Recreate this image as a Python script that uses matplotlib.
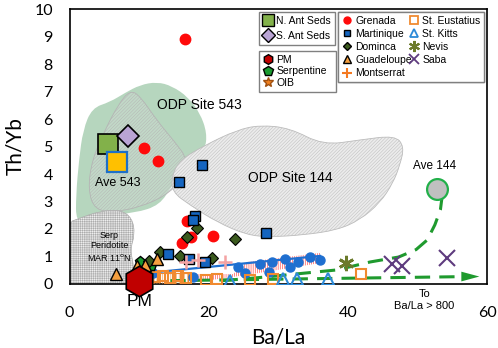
import numpy as np
import matplotlib
matplotlib.use('Agg')
import matplotlib.pyplot as plt
from matplotlib.path import Path
from matplotlib.patches import PathPatch
from matplotlib.lines import Line2D

plt.rcParams['font.family'] = ['Liberation Sans', 'DejaVu Sans']
plt.rcParams['hatch.linewidth'] = 0.35

# --- data ---
grenada_x = [16.6, 10.7, 12.7, 16.9, 17.4, 16.1, 20.6]
grenada_y = [8.9, 4.95, 4.47, 2.3, 1.7, 1.5, 1.75]

martinique_x = [19.0, 15.7, 18.1, 17.7, 28.2, 14.2, 17.1, 19.5]
martinique_y = [4.33, 3.7, 2.47, 2.33, 1.85, 1.1, 0.9, 0.8]

dominica_x = [23.8, 18.3, 16.9, 15.9, 20.5, 13.0, 11.4]
dominica_y = [1.65, 2.05, 1.7, 1.0, 0.95, 1.15, 0.85]

guadeloupe_x = [6.7, 9.7, 10.9, 12.6]
guadeloupe_y = [0.35, 0.65, 0.7, 0.92]

serpentine_x = [10.1, 11.7]
serpentine_y = [0.8, 0.65]

montserrat_x = [16.8, 18.4, 22.4]
montserrat_y = [0.8, 0.87, 0.8]

eustatius_x = [12.3, 13.4, 14.5, 15.6, 16.8, 19.6, 21.2, 25.9, 29.3, 41.9]
eustatius_y = [0.25, 0.3, 0.22, 0.3, 0.2, 0.15, 0.18, 0.15, 0.18, 0.38]

kitts_x = [23.1, 30.7, 32.7, 37.2]
kitts_y = [0.1, 0.18, 0.18, 0.18]

nevis_x = [39.7]
nevis_y = [0.75]

saba_x = [46.4, 47.8, 54.3]
saba_y = [0.72, 0.66, 0.95]

blue_x = [12.0, 17.7, 24.2, 25.2, 27.4, 28.6, 29.1, 31.0, 31.7, 32.9, 34.6, 36.0]
blue_y = [0.4, 0.25, 0.62, 0.39, 0.72, 0.45, 0.81, 0.9, 0.63, 0.81, 0.99, 0.87]
blue_line_x = [12.0, 36.0]
blue_line_y = [0.42, 1.02]

red_band_x = [18.3, 25.5, 36.0, 36.0, 25.5, 23.5, 18.3]
red_band_y = [0.07, 0.33, 0.76, 1.13, 0.8, 0.36, 0.36]
orange_band_x = [12.0, 17.0, 17.0, 12.0]
orange_band_y = [0.0, 0.0, 0.4, 0.4]

curve_x = [22.0, 28.0, 34.0, 38.4, 43.2, 47.3, 49.8, 51.4, 52.5, 53.3, 53.5]
curve_y = [0.12, 0.25, 0.4, 0.51, 0.8, 0.98, 1.25, 1.6, 2.15, 2.7, 3.1]
arrow_x = [14.5, 57.5]
arrow_y = [0.12, 0.27]

n_ant = (5.5, 5.1)
s_ant = (8.4, 5.4)
ave543 = (6.8, 4.45)
ave144 = (52.8, 3.45)
pm = (10.0, 0.1)

# field outlines
odp543_x = [0.93, 0.93, 1.36, 1.94, 3.23, 5.82, 7.97, 10.13, 12.57, 14.73, 17.03, 18.75,
            19.76, 19.47, 17.31, 14.73, 13.0, 9.41, 5.1, 2.66]
odp543_y = [2.25, 3.24, 4.51, 5.6, 6.4, 6.62, 6.95, 7.24, 7.35, 7.2, 6.8, 6.22,
            5.49, 4.87, 4.33, 3.6, 2.87, 2.58, 2.51, 2.33]
hatch543_x = [8.69, 10.13, 12.72, 15.16, 17.03, 16.16, 13.72, 10.13, 6.54, 3.66, 2.66, 3.23, 5.1, 6.97]
hatch543_y = [7.05, 6.84, 5.89, 5.16, 4.51, 3.78, 3.2, 2.8, 2.62, 2.69, 3.42, 4.51, 5.6, 6.51]
odp144_x = [14.73, 15.88, 19.47, 24.07, 27.37, 31.68, 36.42, 41.74, 46.77, 48.1, 47.49,
            46.48, 44.61, 41.74, 38.43, 33.55, 28.81, 25.5, 21.19, 17.31, 14.73]
odp144_y = [3.96, 4.51, 5.05, 5.6, 5.78, 5.67, 5.05, 5.24, 5.4, 5.0, 4.33,
            3.67, 2.95, 2.33, 1.96, 1.78, 1.71, 1.78, 2.25, 2.87, 3.35]
serp_x = [-0.5, 1.5, 4.4, 7.3, 9.0, 9.4, 8.7, 9.3, 9.2, -0.5]
serp_y = [2.2, 2.4, 2.65, 2.7, 2.4, 1.8, 1.25, 0.6, -0.5, -0.5]


def smooth_blob(xs, ys):
    # closed quadratic b-spline through midpoints
    pts = np.column_stack([xs, ys])
    n = len(pts)
    mids = (pts + np.roll(pts, -1, axis=0)) / 2
    verts = [mids[-1]]
    codes = [Path.MOVETO]
    for i in range(n):
        verts += [pts[i], mids[i]]
        codes += [Path.CURVE3, Path.CURVE3]
    return Path(verts, codes)


fig = plt.figure(figsize=(4.98, 3.48), dpi=100)
ax = fig.add_axes([0.1396, 0.184, 0.8384, 0.790])

ax.add_patch(PathPatch(smooth_blob(odp543_x, odp543_y), facecolor='#b6d6be',
                       edgecolor='none', zorder=1))
ax.add_patch(PathPatch(smooth_blob(hatch543_x, hatch543_y), facecolor=(0.88, 0.88, 0.88, 0.3),
                       edgecolor='#b4b4b4', hatch='//////////', lw=0.6, zorder=2))
ax.add_patch(PathPatch(smooth_blob(odp144_x, odp144_y), facecolor='#ececec',
                       edgecolor='#bcbcbc', hatch='//////////', lw=0.6, zorder=2))
ax.add_patch(PathPatch(smooth_blob(serp_x, serp_y), facecolor='#eeeeee',
                       edgecolor='#ababab', hatch='+++++++++', lw=0.5, zorder=2))

ax.text(12.6, 6.5, 'ODP Site 543', fontsize=10, va='center', zorder=3)
ax.text(25.6, 3.85, 'ODP Site 144', fontsize=10, va='center', zorder=3)
ax.text(7.0, 3.67, 'Ave 543', fontsize=9, ha='center', va='center', zorder=3)
ax.text(52.5, 4.3, 'Ave 144', fontsize=8.5, ha='center', va='center', zorder=3)
ax.text(5.7, 1.35, 'Serp\nPeridotite\nMAR 11$^{\\rm o}$N', fontsize=6.5, ha='center',
        va='center', linespacing=1.15, zorder=3)

# bands of dense points
ax.fill(red_band_x, red_band_y, facecolor='none', edgecolor='#ff1010', hatch='||||||||',
        lw=0, zorder=4)
ax.fill(orange_band_x, orange_band_y, facecolor='none', edgecolor='#f08a30', hatch='||||||',
        lw=0.8, zorder=4)

green = '#1f9a2e'
ax.plot(curve_x, curve_y, '--', color=green, lw=2.2, dashes=(5, 3), zorder=5)
ax.plot(arrow_x, arrow_y, '--', color=green, lw=2.2, dashes=(5, 3), zorder=5)
ax.annotate('', xy=(59.3, arrow_y[1]), xytext=(56.5, arrow_y[1]),
            arrowprops=dict(arrowstyle='-|>,head_length=1.3,head_width=0.35', color=green, lw=0),
            zorder=5)

ax.plot(blue_line_x, blue_line_y, color='#1f6fd0', lw=1.6, zorder=6)
ax.plot(blue_x, blue_y, 'o', color='#1f6fd0', ms=6.5, zorder=6)

ax.plot(eustatius_x, eustatius_y, 's', mfc='none', mec='#f08a30', mew=1.5, ms=7, ls='none', zorder=6)
ax.plot(kitts_x, kitts_y, '^', mfc='none', mec='#2c8ad8', mew=1.5, ms=8, ls='none', zorder=6)
ax.plot(nevis_x, nevis_y, marker=(6, 2, 0), color='#6b7a2a', mew=2, ms=11, ls='none', zorder=6)
ax.plot(saba_x, saba_y, 'x', color='#5e3b7e', mew=1.5, ms=11, ls='none', zorder=6)
ax.plot(serpentine_x, serpentine_y, 'p', mfc='#1a9a30', mec='black', ms=8, ls='none', zorder=6)
ax.plot(grenada_x, grenada_y, 'o', color='#ff0a0a', ms=7.5, ls='none', zorder=7)
ax.plot(dominica_x, dominica_y, 'D', mfc='#3b5a1e', mec='black', mew=0.8, ms=6, ls='none', zorder=7)
ax.plot(martinique_x, martinique_y, 's', mfc='#1565c0', mec='black', mew=1, ms=7.5, ls='none', zorder=8)
ax.plot(montserrat_x, montserrat_y, '+', color='#f4a3a3', mew=1.8, ms=10, ls='none', zorder=8)
ax.plot(guadeloupe_x, guadeloupe_y, '^', mfc='#f5a040', mec='black', mew=1, ms=9, ls='none', zorder=8)

ax.plot(*n_ant, 's', mfc='#82b14a', mec='black', mew=1.2, ms=15, zorder=9)
ax.plot(*s_ant, 'D', mfc='#b9a4d4', mec='black', mew=1.2, ms=11, zorder=9)
ax.plot(*ave543, 's', mfc='#ffc000', mec='#1e70c8', mew=1.6, ms=15, zorder=10)
ax.plot(*ave144, 'o', mfc='#c0c0c0', mec='#22b04a', mew=1.6, ms=15, zorder=10)
ax.plot(*pm, 'h', mfc='#c00000', mec='black', mew=1.2, ms=22, clip_on=False, zorder=10)

ax.text(10.1, -0.62, 'PM', fontsize=12.5, ha='center', va='center')
ax.text(51.0, -0.58, 'To\nBa/La > 800', fontsize=8, ha='center', va='center', linespacing=1.2)

ax.set_xlim(0, 60)
ax.set_ylim(0, 10)
ax.set_xticks([0, 20, 40, 60])
ax.set_yticks(range(11))
ax.tick_params(length=0, labelsize=11.5)
ax.tick_params(axis='x', pad=16)
ax.tick_params(axis='y', pad=12)
for lab in ax.get_xticklabels() + ax.get_yticklabels():
    lab.set_family('Lato')
ax.set_xlabel('Ba/La', fontsize=15, family='Lato')
ax.set_ylabel('Th/Yb', fontsize=15, family='Lato')
ax.xaxis.set_label_coords(0.5, -0.16)
ax.yaxis.set_label_coords(-0.107, 0.5)
for s in ax.spines.values():
    s.set_linewidth(1.2)

# legends
def leg(handles, labels, box, **kw):
    l = ax.legend(handles, labels, loc='upper left', bbox_to_anchor=box, mode='expand',
                  bbox_transform=fig.transFigure, borderaxespad=0, fancybox=False,
                  edgecolor='#808080', framealpha=1, fontsize=7.5, handletextpad=0.3,
                  borderpad=0.35, handlelength=1.0, **kw)
    l.get_frame().set_linewidth(1.0)
    ax.add_artist(l)
    return l

h1 = [Line2D([], [], ls='none', marker='s', mfc='#82b14a', mec='black', ms=9),
      Line2D([], [], ls='none', marker='D', mfc='#b9a4d4', mec='black', ms=7)]
leg(h1, ['N. Ant Seds', 'S. Ant Seds'], (0.520, 0.9655, 0.153, 0), labelspacing=0.5)

h2 = [Line2D([], [], ls='none', marker='h', mfc='#c00000', mec='black', ms=7),
      Line2D([], [], ls='none', marker='p', mfc='#1a9a30', mec='black', ms=7),
      Line2D([], [], ls='none', marker='*', mfc='#f08020', mec='#a05010', ms=7)]
leg(h2, ['PM', 'Serpentine', 'OIB'], (0.520, 0.853, 0.155, 0), labelspacing=0.15)

h3 = [Line2D([], [], ls='none', marker='o', color='#ff0a0a', ms=5),
      Line2D([], [], ls='none', marker='s', mfc='#1565c0', mec='black', ms=5),
      Line2D([], [], ls='none', marker='D', mfc='#3b5a1e', mec='black', ms=4.5),
      Line2D([], [], ls='none', marker='^', mfc='#f5a040', mec='black', ms=6),
      Line2D([], [], ls='none', marker='+', color='#f47920', mew=1.5, ms=7),
      Line2D([], [], ls='none', marker='s', mfc='none', mec='#f08a30', mew=1.3, ms=6),
      Line2D([], [], ls='none', marker='^', mfc='none', mec='#2c8ad8', mew=1.3, ms=6),
      Line2D([], [], ls='none', marker=(6, 2, 0), color='#6b7a2a', mew=1.5, ms=8),
      Line2D([], [], ls='none', marker='x', color='#5e3b7e', mew=1.3, ms=7)]
leg(h3, ['Grenada', 'Martinique', 'Dominca', 'Guadeloupe', 'Montserrat',
         'St. Eustatius', 'St. Kitts', 'Nevis', 'Saba'], (0.679, 0.9655, 0.293, 0),
    ncol=2, labelspacing=0.3, columnspacing=0.6)

fig.savefig('out.png', dpi=100)
